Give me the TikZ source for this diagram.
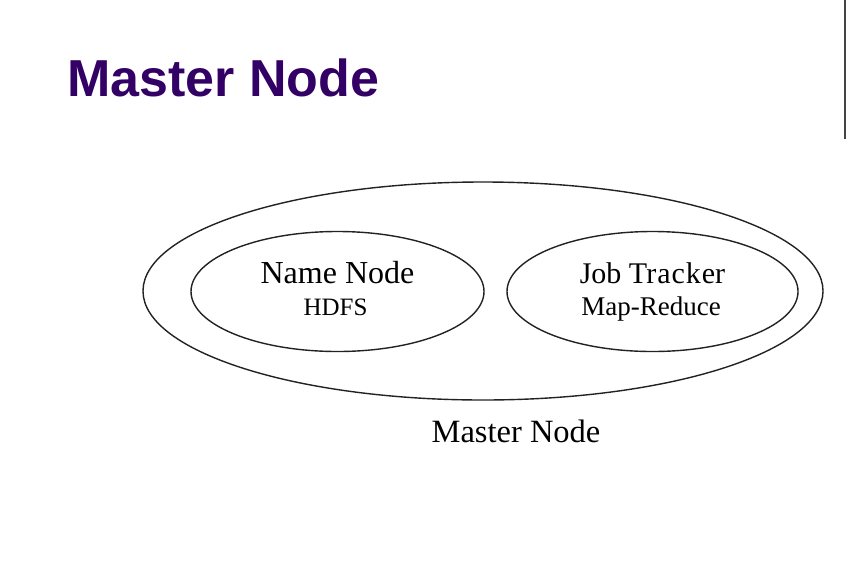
\documentclass[tikz,border=0pt]{standalone}
\usepackage{fontspec}
\setmainfont{Liberation Serif}
\newfontfamily\titlefont{Liberation Sans}
\usetikzlibrary{shapes.geometric}
\definecolor{titlepurple}{HTML}{330066}
\definecolor{edgegray}{HTML}{222222}
\definecolor{rulegray}{HTML}{444444}
\begin{document}
\begin{tikzpicture}[x=1pt,y=1pt,
  ring/.style={draw=edgegray, line width=1.4pt, ellipse, inner sep=0pt, minimum width=#1},
  lbl/.style={anchor=base, inner sep=0pt, text=black}]
\useasboundingbox (0,0) rectangle (850,-584);
% title
\node[anchor=base west, inner sep=0pt, text=titlepurple, font=\titlefont\bfseries\fontsize{52}{60}\selectfont] (title) at (67,-96) {Master Node};
% right rule
\coordinate (rtop) at (845,0);
\coordinate (rbot) at (845,-139);
\draw[rulegray, line width=1.6pt] (rtop) -- (rbot);
% ellipses
\node[ring=680pt, minimum height=218pt] (outer) at (483,-291) {};
\node[ring=293pt, minimum height=120pt] (nn) at (337.5,-291.5) {};
\node[ring=291pt, minimum height=120pt] (jt) at (652.5,-291.5) {};
% labels
\node[lbl, font=\fontsize{32}{36}\selectfont] (nnt) at (337.5,-283) {Name Node};
\node[lbl, font=\fontsize{25}{28}\selectfont] (nns) at (335.5,-315) {HDFS};
\node[lbl, font=\fontsize{30}{36}\selectfont] (jtt) at (652.5,-283) {Job Tr\kern1pt a\kern1pt c\kern1pt k\kern1pt er};
\node[lbl, font=\fontsize{27}{30}\selectfont] (jts) at (651,-315) {Map-Reduce};
\node[lbl, font=\fontsize{32.5}{38}\selectfont] (mn) at (516,-442) {Master Node};
\end{tikzpicture}
\end{document}
